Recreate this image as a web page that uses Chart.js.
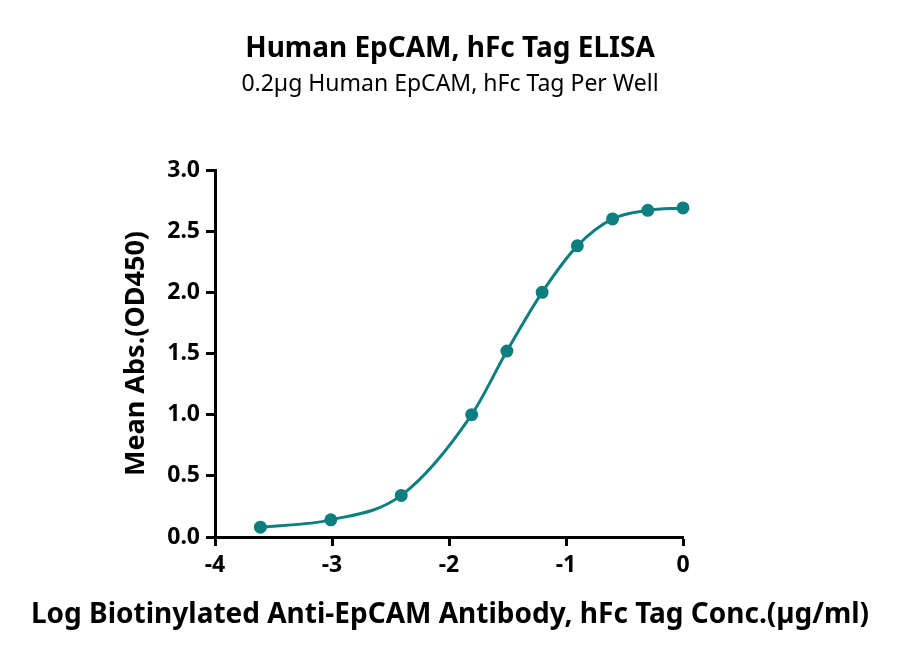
<!DOCTYPE html>
<html>
<head>
<meta charset="utf-8">
<script src="https://cdn.jsdelivr.net/npm/chart.js@4.4.0/dist/chart.umd.min.js"></script>
<style>
  html,body{margin:0;padding:0;background:#fff;}
  #wrap{width:900px;height:659px;position:relative;font-family:'Noto Sans','Open Sans',sans-serif;color:#000;}
  .lbl{position:absolute;left:0;width:900px;text-align:center;white-space:nowrap;line-height:1;}
  #title{top:32px;font-size:28px;font-weight:bold;}
  #subtitle{top:71px;font-size:23px;}
  #xtitle{top:598px;font-size:28px;font-weight:bold;}
  canvas{position:absolute;left:0;top:0;}
</style>
</head>
<body>
<div id="wrap">
  <canvas id="elisa" width="900" height="659"></canvas>
  <div class="lbl" id="title">Human EpCAM, hFc Tag ELISA</div>
  <div class="lbl" id="subtitle">0.2µg Human EpCAM, hFc Tag Per Well</div>
  <div class="lbl" id="xtitle">Log Biotinylated Anti-EpCAM Antibody, hFc Tag Conc.(µg/ml)</div>
</div>
<script>
// log concentration (µg/ml) and mean OD450
const logConc = [-3.612, -3.010, -2.408, -1.806, -1.505, -1.204, -0.903, -0.602, -0.301, 0];
const meanAbs = [0.08, 0.14, 0.34, 1.00, 1.52, 2.00, 2.38, 2.60, 2.67, 2.69];
const xTicks = [-4, -3, -2, -1, 0];
const yTicks = [0, 0.5, 1.0, 1.5, 2.0, 2.5, 3.0];

const teal = "#0e7f80";
const font = "'Noto Sans', 'Open Sans', sans-serif";

const points = logConc.map((x, i) => ({x, y: meanAbs[i]}));

new Chart(document.getElementById("elisa"), {
  type: "scatter",
  data: {
    datasets: [{
      data: points,
      showLine: true,
      borderColor: teal,
      backgroundColor: teal,
      borderWidth: 3,
      pointRadius: 5,
      pointHoverRadius: 5,
      cubicInterpolationMode: "monotone",
      clip: false
    }]
  },
  options: {
    responsive: false,
    animation: false,
    layout: {padding: {left: 116, right: 217, top: 170, bottom: 62}},
    plugins: {
      legend: {display: false},
      tooltip: {enabled: false}
    },
    scales: {
      x: {
        type: "linear",
        min: -4, max: 0,
        afterBuildTicks: s => { s.ticks = xTicks.map(v => ({value: v})); },
        grid: {display: true, drawOnChartArea: false, drawTicks: true,
               tickLength: 9, tickWidth: 3, tickColor: "#000"},
        border: {display: true, color: "#000", width: 3},
        ticks: {color: "#000", padding: 6, font: {family: font, size: 23, weight: "bold"}},
        afterFit: s => { s.height = 60; }
      },
      y: {
        min: 0, max: 3,
        afterBuildTicks: s => { s.ticks = yTicks.map(v => ({value: v})); },
        grid: {display: true, drawOnChartArea: false, drawTicks: true,
               tickLength: 9, tickWidth: 3, tickColor: "#000"},
        border: {display: true, color: "#000", width: 3},
        ticks: {color: "#000", padding: 6, font: {family: font, size: 23, weight: "bold"},
                callback: v => v.toFixed(1)},
        title: {display: true, text: "Mean Abs.(OD450)", color: "#000",
                font: {family: font, size: 27, weight: "bold"}, padding: {top: 4, bottom: 4}},
        afterFit: s => { s.width = 99; }
      }
    }
  }
});
</script>
</body>
</html>
